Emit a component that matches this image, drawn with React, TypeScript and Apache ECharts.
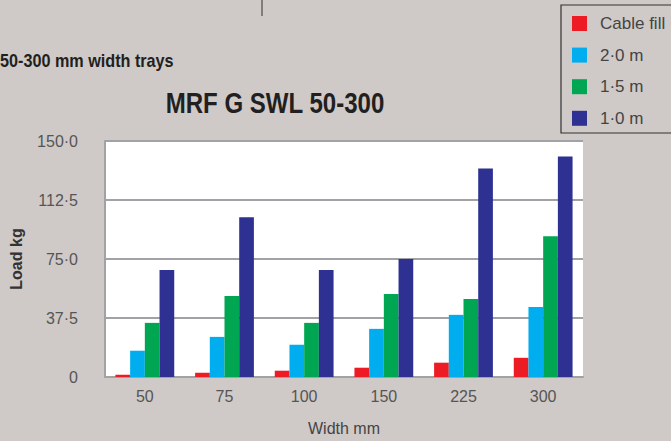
import React, { useEffect, useRef } from "react";
import * as echarts from "echarts";

const categories = ["50", "75", "100", "150", "225", "300"];
const seriesNames = ["Cable fill", "2·0 m", "1·5 m", "1·0 m"];
const cableFill = [1.5, 2.7, 4.0, 5.9, 9.1, 12.2];
const span20 = [16.7, 25.5, 20.5, 30.6, 39.5, 44.5];
const span15 = [34.4, 51.5, 34.4, 52.8, 49.6, 89.5];
const span10 = [68, 101.5, 68, 75, 132.6, 140.2];
const yTickLabels = ["0", "37·5", "75·0", "112·5", "150·0"];
const colors = ["#ed1c24", "#00adef", "#00a651", "#2e3192"];

const FONT = "'Liberation Sans', Arial, Helvetica, sans-serif";

export default function App() {
  const ref = useRef<HTMLDivElement>(null);
  useEffect(() => {
    document.body.style.margin = "0";
    const chart = echarts.init(ref.current!, null, { renderer: "svg" });
    const data = [cableFill, span20, span15, span10];
    chart.setOption({
      animation: false,
      backgroundColor: "#cfcac7",
      textStyle: { fontFamily: FONT },
      grid: { left: 104, right: 88, top: 141, bottom: 63, backgroundColor: "#ffffff", show: true, borderWidth: 0 },
      legend: {
        orient: "vertical",
        left: 572,
        top: 15,
        itemWidth: 15,
        itemHeight: 15,
        itemGap: 14.6,
        padding: 0,
        icon: "rect",
        data: seriesNames,
        textStyle: { fontSize: 17, color: "#444", fontFamily: FONT, padding: [0, 0, 0, 8] },
      },
      xAxis: {
        type: "category",
        data: categories,
        name: "Width mm",
        nameLocation: "middle",
        nameGap: 43,
        nameTextStyle: { fontSize: 16, color: "#444", fontFamily: FONT },
        axisLine: { lineStyle: { color: "#a0a2a6", width: 2 } },
        axisTick: { show: false },
        axisLabel: { fontSize: 16, color: "#555", margin: 11, fontFamily: FONT },
      },
      yAxis: {
        type: "value",
        min: 0,
        max: 150,
        interval: 37.5,
        name: "Load kg",
        nameLocation: "middle",
        nameGap: 81,
        nameTextStyle: { fontSize: 16, fontWeight: "bold", color: "#333", fontFamily: FONT },
        axisLine: { show: true, lineStyle: { color: "#a0a2a6", width: 2 } },
        axisTick: { show: false },
        splitLine: { lineStyle: { color: "#a0a2a6", width: 2 } },
        axisLabel: {
          fontSize: 16,
          color: "#555",
          margin: 27,
          fontFamily: FONT,
          formatter: (v: number) => yTickLabels[Math.round(v / 37.5)] ?? "",
        },
      },
      series: data.map((d, i) => ({
        name: seriesNames[i],
        type: "bar",
        data: d,
        barWidth: 14.7,
        barGap: "0%",
        itemStyle: { color: colors[i] },
      })),
      graphic: [
        { type: "line", shape: { x1: 262, y1: 0, x2: 262, y2: 16 }, style: { stroke: "#333", lineWidth: 1 } },
        {
          type: "rect",
          shape: { x: 561, y: 5, width: 130, height: 128 },
          style: { fill: "none", stroke: "#333", lineWidth: 1.2 },
        },
        {
          type: "text",
          x: 0,
          y: 61,
          scaleX: 0.9,
          style: {
            text: "50-300 mm width trays",
            font: `bold 18px ${FONT}`,
            fill: "#231f20",
            textAlign: "left",
            textVerticalAlign: "middle",
          },
        },
        {
          type: "text",
          x: 275,
          y: 103,
          scaleX: 0.83,
          style: {
            text: "MRF G SWL 50-300",
            font: `bold 29px ${FONT}`,
            fill: "#231f20",
            textAlign: "center",
            textVerticalAlign: "middle",
          },
        },
      ],
    });
    return () => chart.dispose();
  }, []);
  return <div ref={ref} style={{ width: 671, height: 441 }} />;
}
